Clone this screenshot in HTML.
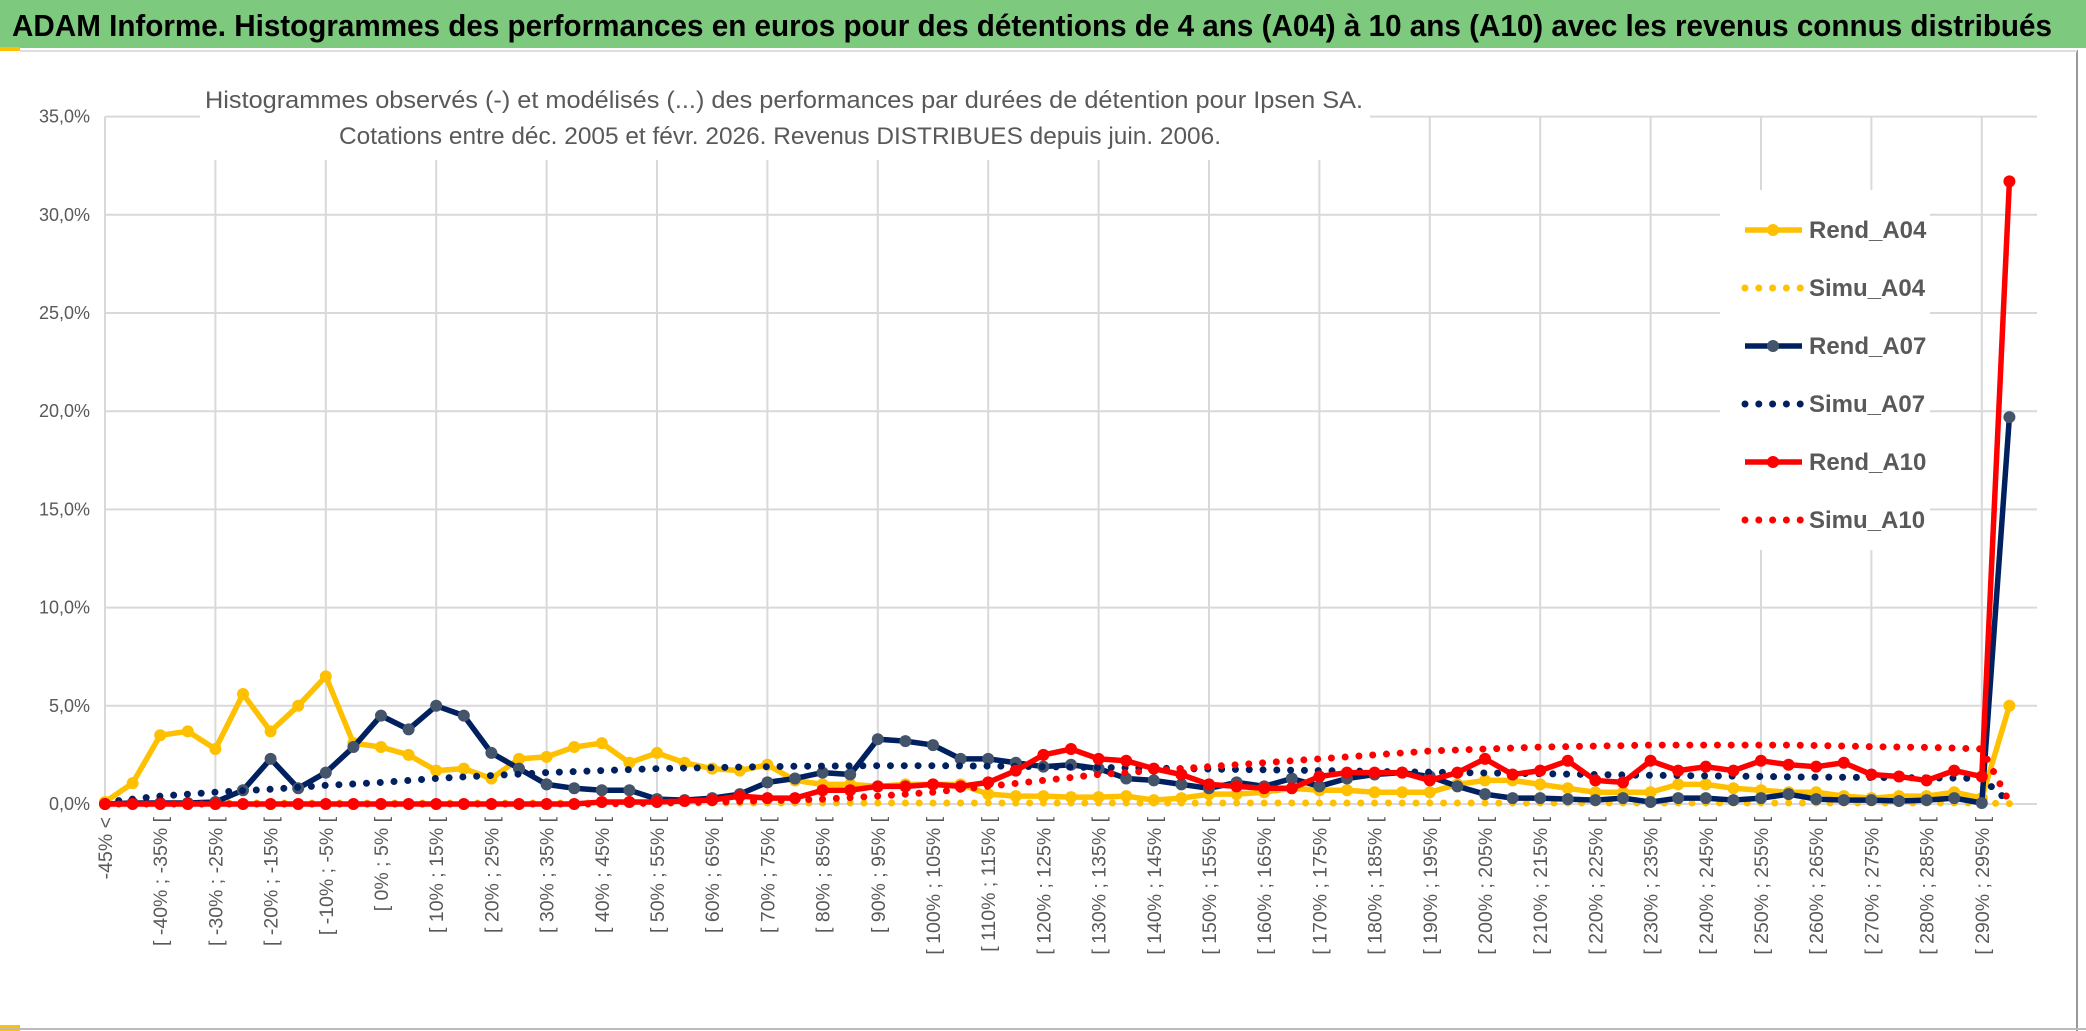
<!DOCTYPE html>
<html><head><meta charset="utf-8"><style>
html,body{margin:0;padding:0;background:#fff;}
svg{display:block;font-family:"Liberation Sans Narrow","Liberation Sans",sans-serif;}
</style></head><body>
<svg id="chart" width="2086" height="1031" viewBox="0 0 2086 1031" xmlns="http://www.w3.org/2000/svg">
<rect x="0" y="0" width="2086" height="1031" fill="#fff"/>
<rect x="0" y="0" width="2086" height="48" fill="#7dc97d"/>
<rect x="0" y="47" width="20" height="4" fill="#ffc000"/>
<rect x="0" y="1025" width="20" height="6" fill="#ffc000"/>
<line x1="2077" y1="50" x2="2077" y2="1031" stroke="#999" stroke-width="2"/>
<line x1="0" y1="1029" x2="2086" y2="1029" stroke="#bbb" stroke-width="2"/>
<line x1="20" y1="51" x2="2077" y2="51" stroke="#ddd" stroke-width="2"/>
<text x="12" y="36" font-size="31" font-weight="bold" fill="#000" textLength="2040" lengthAdjust="spacingAndGlyphs">ADAM Informe. Histogrammes des performances en euros pour des détentions de 4 ans (A04) à 10 ans (A10) avec les revenus connus distribués</text>
<g id="grid"></g>
<g id="ylabels"></g>
<g id="xlabels"></g>
<rect x="200" y="84" width="1170" height="76" fill="#fff"/>
<text x="784" y="108" font-size="24" fill="#595959" text-anchor="middle" textLength="1158" lengthAdjust="spacingAndGlyphs">Histogrammes observés (-) et modélisés (...) des performances par durées de détention pour Ipsen SA.</text>
<text x="780" y="144" font-size="24" fill="#595959" text-anchor="middle" textLength="882" lengthAdjust="spacingAndGlyphs">Cotations entre déc. 2005 et févr. 2026. Revenus DISTRIBUES depuis juin. 2006.</text>
<rect x="1720" y="190" width="210" height="360" fill="#fff"/>
<g id="series"></g>
<g id="legend"></g>
</svg>
<script>
const categories = ["-45% <","[ -45% ; -40% [","[ -40% ; -35% [","[ -35% ; -30% [","[ -30% ; -25% [","[ -25% ; -20% [","[ -20% ; -15% [","[ -15% ; -10% [","[ -10% ; -5% [","[ -5% ; 0% [","[ 0% ; 5% [","[ 5% ; 10% [","[ 10% ; 15% [","[ 15% ; 20% [","[ 20% ; 25% [","[ 25% ; 30% [","[ 30% ; 35% [","[ 35% ; 40% [","[ 40% ; 45% [","[ 45% ; 50% [","[ 50% ; 55% [","[ 55% ; 60% [","[ 60% ; 65% [","[ 65% ; 70% [","[ 70% ; 75% [","[ 75% ; 80% [","[ 80% ; 85% [","[ 85% ; 90% [","[ 90% ; 95% [","[ 95% ; 100% [","[ 100% ; 105% [","[ 105% ; 110% [","[ 110% ; 115% [","[ 115% ; 120% [","[ 120% ; 125% [","[ 125% ; 130% [","[ 130% ; 135% [","[ 135% ; 140% [","[ 140% ; 145% [","[ 145% ; 150% [","[ 150% ; 155% [","[ 155% ; 160% [","[ 160% ; 165% [","[ 165% ; 170% [","[ 170% ; 175% [","[ 175% ; 180% [","[ 180% ; 185% [","[ 185% ; 190% [","[ 190% ; 195% [","[ 195% ; 200% [","[ 200% ; 205% [","[ 205% ; 210% [","[ 210% ; 215% [","[ 215% ; 220% [","[ 220% ; 225% [","[ 225% ; 230% [","[ 230% ; 235% [","[ 235% ; 240% [","[ 240% ; 245% [","[ 245% ; 250% [","[ 250% ; 255% [","[ 255% ; 260% [","[ 260% ; 265% [","[ 265% ; 270% [","[ 270% ; 275% [","[ 275% ; 280% [","[ 280% ; 285% [","[ 285% ; 290% [","[ 290% ; 295% [","> 295%"];
const yTicks = [0,5,10,15,20,25,30,35];
const yTickLabels = ["0,0%","5,0%","10,0%","15,0%","20,0%","25,0%","30,0%","35,0%"];
const rendA04 = [0.1,1.06,3.5,3.7,2.8,5.6,3.7,5.0,6.5,3.1,2.9,2.5,1.7,1.8,1.3,2.3,2.4,2.9,3.1,2.1,2.6,2.1,1.8,1.7,2.0,1.2,1.0,1.0,0.9,1.0,1.0,1.0,0.5,0.4,0.4,0.35,0.35,0.4,0.2,0.3,0.5,0.5,0.6,0.8,0.7,0.7,0.6,0.6,0.6,1.0,1.2,1.2,1.0,0.8,0.6,0.6,0.6,1.0,1.0,0.8,0.7,0.6,0.6,0.4,0.3,0.4,0.4,0.6,0.3,5.0];
const simuA04 = [0.05,0.05,0.05,0.05,0.05,0.05,0.05,0.05,0.05,0.05,0.05,0.05,0.05,0.05,0.05,0.05,0.05,0.05,0.05,0.05,0.05,0.05,0.05,0.05,0.05,0.05,0.05,0.05,0.05,0.05,0.05,0.05,0.05,0.05,0.05,0.05,0.05,0.05,0.05,0.05,0.05,0.05,0.05,0.05,0.05,0.05,0.05,0.05,0.05,0.05,0.05,0.05,0.05,0.05,0.05,0.05,0.05,0.05,0.05,0.05,0.05,0.05,0.05,0.05,0.05,0.05,0.05,0.05,0.05,0.02];
const rendA07 = [0,0.05,0.05,0.05,0.1,0.7,2.3,0.8,1.6,2.9,4.5,3.8,5.0,4.5,2.6,1.8,1.0,0.8,0.7,0.7,0.25,0.2,0.3,0.5,1.1,1.3,1.6,1.5,3.3,3.2,3.0,2.3,2.3,2.1,1.9,2.0,1.8,1.3,1.2,1.0,0.8,1.1,0.9,1.3,0.9,1.3,1.5,1.6,1.4,0.9,0.5,0.3,0.3,0.25,0.2,0.3,0.1,0.3,0.3,0.2,0.3,0.5,0.25,0.2,0.2,0.15,0.2,0.3,0.05,19.7];
const simuA07 = [0.1,0.25,0.4,0.5,0.6,0.68,0.75,0.85,0.95,1.02,1.1,1.2,1.3,1.38,1.45,1.52,1.6,1.65,1.7,1.75,1.8,1.83,1.85,1.88,1.9,1.92,1.93,1.94,1.95,1.95,1.95,1.94,1.93,1.92,1.9,1.88,1.86,1.84,1.82,1.8,1.78,1.76,1.74,1.72,1.7,1.68,1.66,1.64,1.62,1.6,1.58,1.56,1.54,1.52,1.5,1.48,1.46,1.45,1.43,1.42,1.4,1.38,1.37,1.36,1.35,1.34,1.33,1.32,1.3,0.1];
const rendA10 = [0,0,0,0,0,0,0,0,0,0,0,0,0,0,0,0,0,0,0.1,0.1,0.1,0.15,0.2,0.4,0.3,0.3,0.7,0.7,0.9,0.9,1.0,0.9,1.1,1.7,2.5,2.8,2.3,2.2,1.8,1.5,1.0,0.9,0.8,0.8,1.4,1.6,1.6,1.6,1.2,1.6,2.3,1.5,1.7,2.2,1.2,1.1,2.2,1.7,1.9,1.7,2.2,2.0,1.9,2.1,1.5,1.4,1.2,1.7,1.4,31.7];
const simuA10 = [0,0,0,0,0,0,0,0,0,0,0,0,0,0,0,0,0,0,0,0.02,0.05,0.07,0.1,0.13,0.17,0.2,0.25,0.32,0.4,0.5,0.6,0.75,0.9,1.05,1.2,1.35,1.5,1.6,1.7,1.8,1.9,2.0,2.1,2.2,2.3,2.4,2.5,2.6,2.7,2.75,2.8,2.85,2.9,2.92,2.95,2.97,3.0,3.0,3.0,3.0,3.0,3.0,2.98,2.95,2.92,2.9,2.88,2.85,2.8,0.1];

const NS = "http://www.w3.org/2000/svg";
const X0 = 105, DX = 27.6, Y0 = 804, YPER = 19.64, XEND = 2037;
const xs = i => X0 + i * DX;
const ys = v => Y0 - v * YPER;
function mk(tag, parent) { const e = document.createElementNS(NS, tag); parent.appendChild(e); return e; }

const grid = document.getElementById('grid');
yTicks.forEach((t, k) => {
  const l = mk('line', grid);
  
  
  l.setAttribute('x1', X0); l.setAttribute('x2', XEND);
  l.setAttribute('y1', ys(t)); l.setAttribute('y2', ys(t));
  l.setAttribute('stroke', '#d9d9d9'); l.setAttribute('stroke-width', '2');
  const tx = mk('text', document.getElementById('ylabels'));
  
  
  tx.setAttribute('x', 90); tx.setAttribute('y', ys(t) + 6);
  tx.setAttribute('text-anchor', 'end'); tx.setAttribute('font-size', '18');
  tx.setAttribute('fill', '#595959');
  tx.textContent = yTickLabels[k];
});
for (let i = 0; i < categories.length; i += 4) {
  const l = mk('line', grid);
  
  
  l.setAttribute('x1', xs(i)); l.setAttribute('x2', xs(i));
  l.setAttribute('y1', ys(35)); l.setAttribute('y2', Y0);
  l.setAttribute('stroke', '#d9d9d9'); l.setAttribute('stroke-width', '2');
}
const xl = document.getElementById('xlabels');
categories.forEach((c, i) => {
  if (i % 2 !== 0) return;
  const t = mk('text', xl);
  
  
  t.setAttribute('transform', `translate(${xs(i) + 7},817) rotate(-90)`);
  t.setAttribute('text-anchor', 'end'); t.setAttribute('font-size', '19.5');
  t.setAttribute('fill', '#595959');
  t.textContent = c;
});

const sg = document.getElementById('series');
function drawSeries(vals, color, dotted, marker, name) {
  const g = mk('g', sg);
  
  
  const p = mk('polyline', g);
  
  
  p.setAttribute('points', vals.map((v, i) => xs(i) + ',' + ys(v)).join(' '));
  p.setAttribute('fill', 'none'); p.setAttribute('stroke', color);
  p.setAttribute('stroke-linejoin', 'round');
  if (dotted) {
    p.setAttribute('stroke-width', '7'); p.setAttribute('stroke-linecap', 'round');
    p.setAttribute('stroke-dasharray', '0 13.8');
  } else {
    p.setAttribute('stroke-width', '5.5');
  }
  if (marker) vals.forEach((v, i) => {
    const c = mk('circle', g);
    
    
    c.setAttribute('cx', xs(i)); c.setAttribute('cy', ys(v)); c.setAttribute('r', '6');
    c.setAttribute('fill', marker);
  });
}
drawSeries(rendA04, '#ffc000', false, '#ffc000', 'rend-a04');
drawSeries(simuA04, '#ffc000', true, null, 'simu-a04');
drawSeries(rendA07, '#002060', false, '#44546a', 'rend-a07');
drawSeries(simuA07, '#002060', true, null, 'simu-a07');
drawSeries(rendA10, '#ff0000', false, '#ff0000', 'rend-a10');
drawSeries(simuA10, '#ff0000', true, null, 'simu-a10');

const legendItems = [["Rend_A04","#ffc000",false,"#ffc000"],["Simu_A04","#ffc000",true,null],["Rend_A07","#002060",false,"#44546a"],["Simu_A07","#002060",true,null],["Rend_A10","#ff0000",false,"#ff0000"],["Simu_A10","#ff0000",true,null]];
const lg = document.getElementById('legend');
legendItems.forEach((it, k) => {
  const y = 230 + k * 58;
  const g = mk('g', lg);
  
  
  const l = mk('line', g);
  
  
  l.setAttribute('x1', 1745); l.setAttribute('x2', 1802); l.setAttribute('y1', y); l.setAttribute('y2', y);
  l.setAttribute('stroke', it[1]);
  if (it[2]) { l.setAttribute('stroke-width', '7'); l.setAttribute('stroke-linecap', 'round'); l.setAttribute('stroke-dasharray', '0 13.8'); }
  else { l.setAttribute('stroke-width', '5.5'); }
  if (it[3]) {
    const c = mk('circle', g);
    
    
    c.setAttribute('cx', 1773); c.setAttribute('cy', y); c.setAttribute('r', '6'); c.setAttribute('fill', it[3]);
  }
  const t = mk('text', g);
  
  
  t.setAttribute('x', 1809); t.setAttribute('y', y + 8);
  t.setAttribute('font-size', '24'); t.setAttribute('font-weight', 'bold'); t.setAttribute('fill', '#595959');
  t.textContent = it[0];
});
</script>
</body></html>
